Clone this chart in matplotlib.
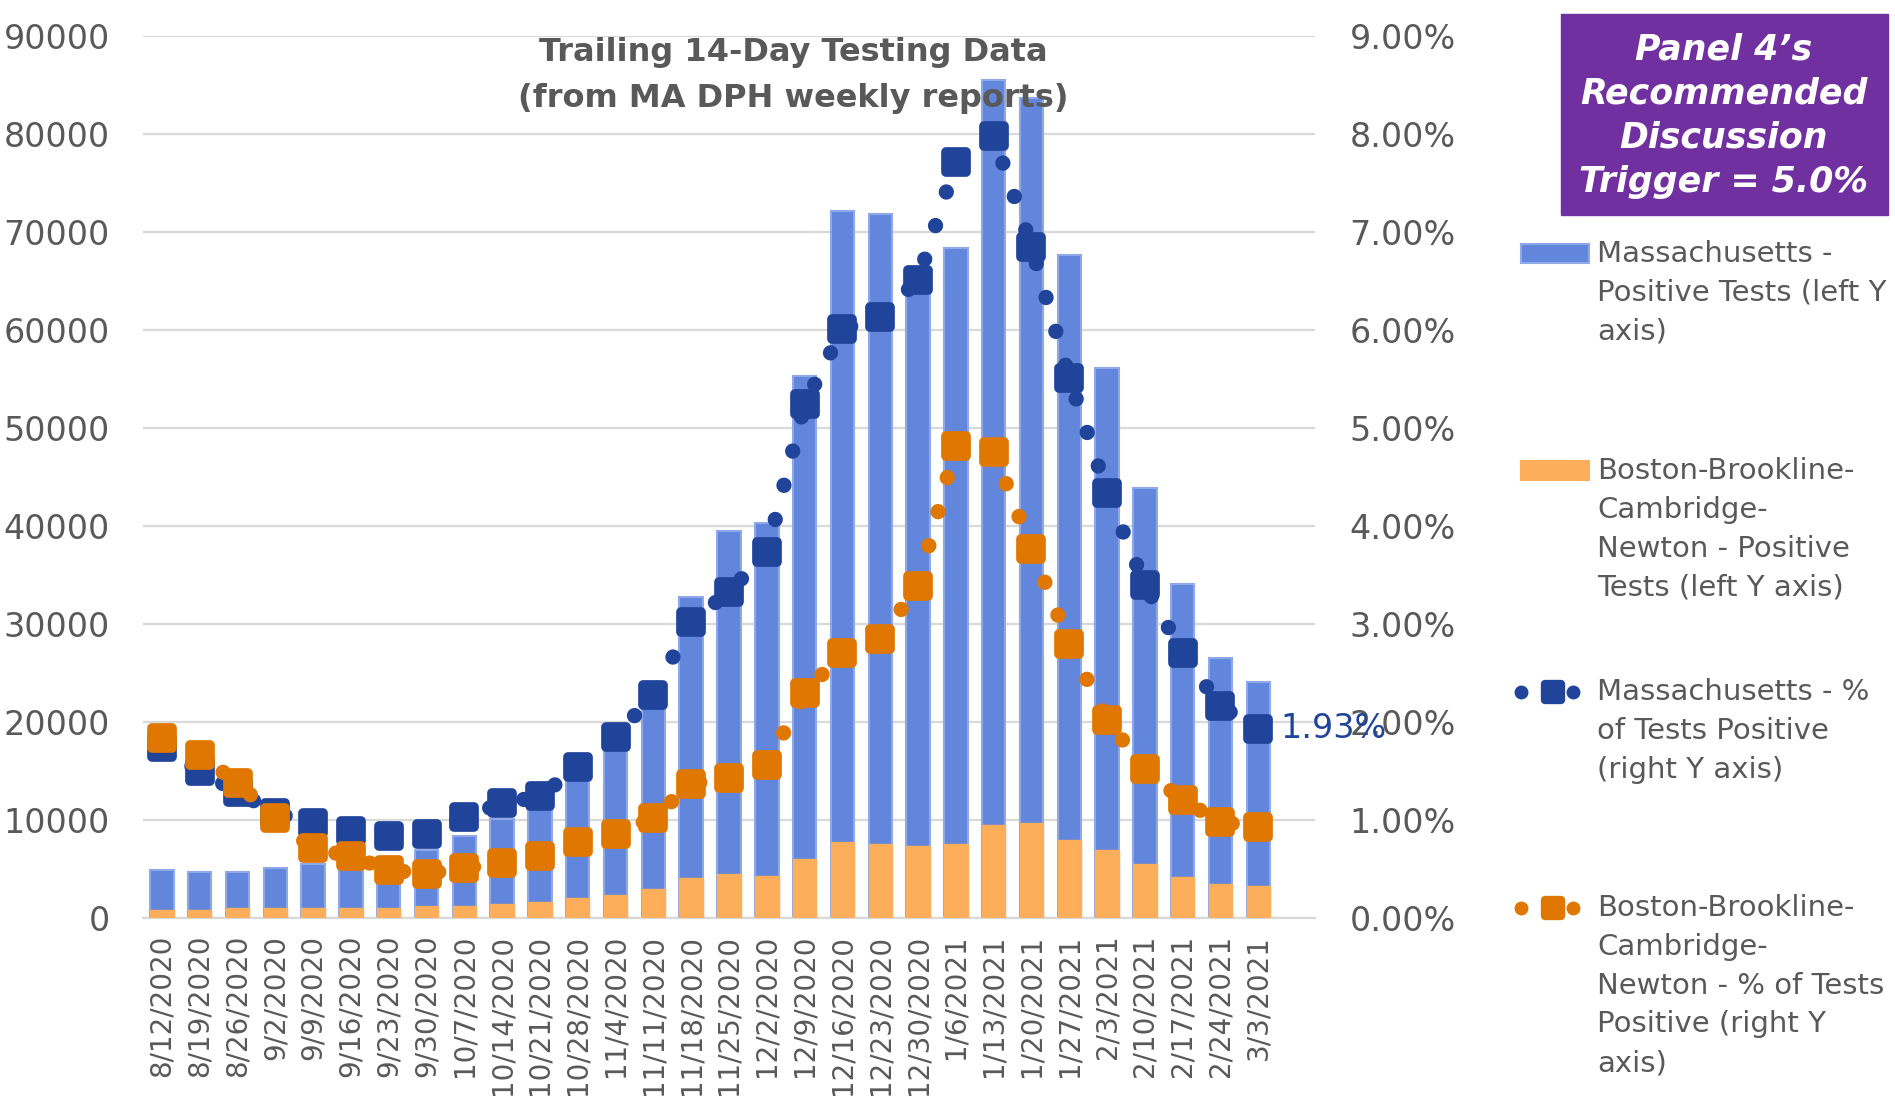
import numpy as np
import matplotlib
matplotlib.use("Agg")
import matplotlib.pyplot as plt
from matplotlib.markers import MarkerStyle
from matplotlib.patches import Rectangle
from matplotlib.ticker import FuncFormatter, MultipleLocator

plt.rcParams['font.family'] = ['DejaVu Sans']

# weekly report dates
dates = ["8/12/2020", "8/19/2020", "8/26/2020", "9/2/2020", "9/9/2020",
         "9/16/2020", "9/23/2020", "9/30/2020", "10/7/2020", "10/14/2020",
         "10/21/2020", "10/28/2020", "11/4/2020", "11/11/2020", "11/18/2020",
         "11/25/2020", "12/2/2020", "12/9/2020", "12/16/2020", "12/23/2020",
         "12/30/2020", "1/6/2021", "1/13/2021", "1/20/2021", "1/27/2021",
         "2/3/2021", "2/10/2021", "2/17/2021", "2/24/2021", "3/3/2021"]

# positive tests, trailing 14 days (left axis)
ma_tests = [4900, 4700, 4700, 5100, 5500, 6200, 6100, 6900, 8400, 10100,
            12300, 15300, 18200, 22500, 32800, 39500, 40300, 55300, 72100, 71800,
            65900, 68400, 85500, 83700, 67700, 56100, 43900, 34100, 26500, 24100]
bbcn_tests = [820, 820, 990, 1000, 1000, 1000, 1000, 1220, 1220, 1430,
              1660, 2070, 2370, 3000, 4100, 4500, 4300, 6050, 7770, 7570,
              7360, 7600, 9500, 9700, 8000, 6900, 5500, 4200, 3500, 3300]

# % of tests positive (right axis)
ma_pct = [1.74, 1.50, 1.29, 1.07, 0.97, 0.89, 0.84, 0.86, 1.03, 1.17,
          1.24, 1.54, 1.85, 2.28, 3.02, 3.33, 3.73, 5.24, 6.01, 6.13,
          6.51, 7.71, 7.98, 6.85, 5.51, 4.34, 3.40, 2.70, 2.16, 1.93]
bbcn_pct = [1.84, 1.66, 1.38, 1.02, 0.71, 0.63, 0.49, 0.45, 0.51, 0.56,
            0.63, 0.78, 0.86, 1.02, 1.37, 1.43, 1.56, 2.30, 2.70, 2.85,
            3.39, 4.82, 4.76, 3.77, 2.80, 2.02, 1.52, 1.20, 0.98, 0.93]

BLUE_BAR = "#6186DC"
BLUE_EDGE = "#8EA8E8"
ORANGE_BAR = "#FDAE5A"
MA_DARK = "#21449B"
BB_ORANGE = "#E07700"
GRAY = "#595959"
GRID = "#D9D9D9"
PURPLE = "#7030A0"

W, H = 1895, 1107
fig = plt.figure(figsize=(W / 100, H / 100), dpi=100)

ax = fig.add_axes([143 / W, 1 - 918 / H, (1315 - 143) / W, (918 - 36) / H])
x = np.arange(len(dates))
ax.bar(x, ma_tests, width=0.62, color=BLUE_BAR, edgecolor=BLUE_EDGE, linewidth=1.5, zorder=2)
ax.bar(x, bbcn_tests, width=0.62, color=ORANGE_BAR, edgecolor=ORANGE_BAR, linewidth=1.0, zorder=3)
ax.set_xlim(-0.5, len(dates) + 0.5)
ax.set_ylim(0, 90000)
ax.yaxis.set_major_locator(MultipleLocator(10000))
ax.grid(axis='y', color=GRID, linewidth=1.6, zorder=0)
ax.set_axisbelow(True)
for s in ['top', 'left', 'right']:
    ax.spines[s].set_visible(False)
ax.spines['bottom'].set_color(GRID)
ax.spines['bottom'].set_linewidth(1.6)
ax.set_xticks(x)
ax.set_xticklabels(dates, rotation=90, fontsize=20, color=GRAY)
ax.tick_params(axis='x', length=0, pad=12)
ax.tick_params(axis='y', length=0, pad=24, labelsize=24, labelcolor=GRAY)

ax2 = ax.twinx()
ax2.set_ylim(0, 9)
ax2.yaxis.set_major_locator(MultipleLocator(1))
ax2.yaxis.set_major_formatter(FuncFormatter(lambda v, p: f"{v:.2f}%"))
ax2.tick_params(axis='y', length=0, pad=25, labelsize=24, labelcolor=GRAY)
for s in ax2.spines.values():
    s.set_visible(False)

rsq = MarkerStyle('s', joinstyle='round')
for vals, col in [(ma_pct, MA_DARK), (bbcn_pct, BB_ORANGE)]:
    ax2.plot(x, vals, color=col, lw=11, dashes=(0.01, 2.3), dash_capstyle='round',
             marker=rsq, ms=14, mew=7, mec=col, mfc=col)

ax2.annotate(f"{ma_pct[-1]:.2f}%", xy=(x[-1], ma_pct[-1]), xytext=(16, 0),
             textcoords='offset points', ha='left', va='center',
             color=MA_DARK, fontsize=24)

# overlay for title, callout box and legend
lax = fig.add_axes([0, 0, 1, 1], zorder=5)
lax.set_xlim(0, W)
lax.set_ylim(H, 0)
lax.axis('off')

lax.text(793, 53, "Trailing 14-Day Testing Data", ha='center', va='center',
         fontsize=23, fontweight='bold', color=GRAY)
lax.text(793, 98, "(from MA DPH weekly reports)", ha='center', va='center',
         fontsize=23, fontweight='bold', color=GRAY)

lax.add_patch(Rectangle((1561, 14), 327, 201, color=PURPLE))
box_lines = ["Panel 4\u2019s", "Recommended", "Discussion", "Trigger = 5.0%"]
for i, t in enumerate(box_lines):
    lax.text(1724, 50 + 44 * i, t, ha='center', va='center', color='white',
             fontsize=25, fontweight='bold', fontstyle='italic')

entries = [
    ("bar", BLUE_BAR, BLUE_EDGE, 254, ["Massachusetts -", "Positive Tests (left Y", "axis)"]),
    ("bar", ORANGE_BAR, ORANGE_BAR, 471, ["Boston-Brookline-", "Cambridge-", "Newton - Positive", "Tests (left Y axis)"]),
    ("line", MA_DARK, MA_DARK, 692, ["Massachusetts - %", "of Tests Positive", "(right Y axis)"]),
    ("line", BB_ORANGE, BB_ORANGE, 908, ["Boston-Brookline-", "Cambridge-", "Newton - % of Tests", "Positive (right Y", "axis)"]),
]
for kind, col, ecol, y0, lines in entries:
    if kind == "bar":
        lax.add_patch(Rectangle((1521, y0 - 10), 68, 19, facecolor=col, edgecolor=ecol, linewidth=1.5))
    else:
        lax.plot([1521, 1573], [y0, y0], ls='none', marker='o', ms=9, color=col)
        lax.plot([1553], [y0], ls='none', marker=rsq, ms=12, mew=6, color=col)
    for i, t in enumerate(lines):
        lax.text(1597, y0 + 38.8 * i, t, ha='left', va='center', fontsize=21, color=GRAY)

fig.savefig("out.png", dpi=100)
